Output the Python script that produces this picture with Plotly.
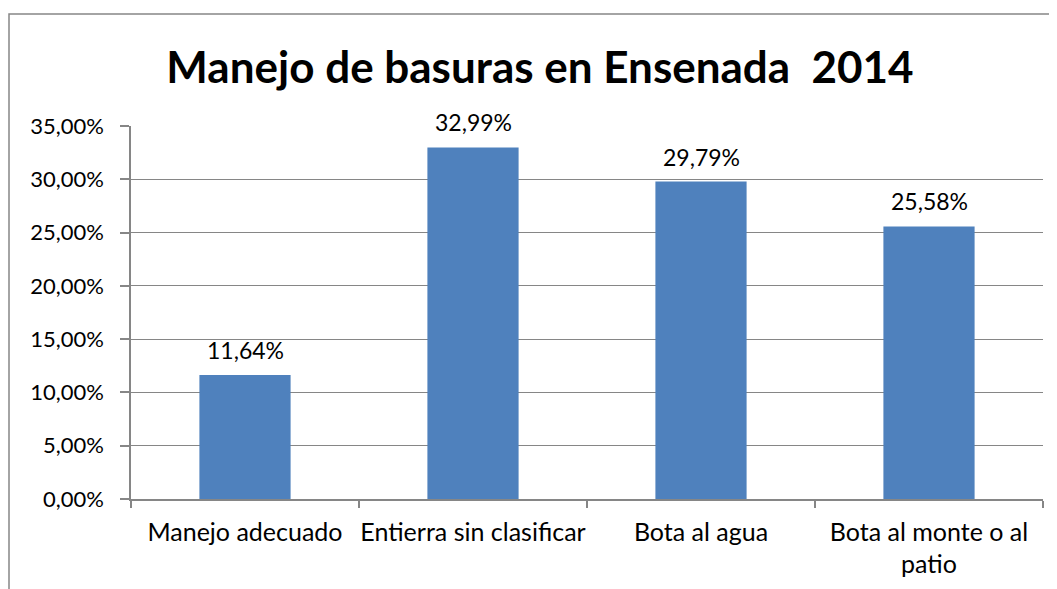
import plotly.graph_objects as go

categories = ["Manejo adecuado", "Entierra sin clasificar", "Bota al agua", "Bota al monte o al<br>patio"]
values = [0.1164, 0.3299, 0.2979, 0.2558]
labels = ["11,64%", "32,99%", "29,79%", "25,58%"]
title_text = "Manejo de basuras en Ensenada  2014"

FONT = "Lato, Open Sans, sans-serif"
GRAY = "#868686"
OFF = 8  # page body margin offset
W, H = 1057 - OFF, 589 - OFF
L, R, T, B = 131 - OFF, 1043 - OFF, 126 - OFF, 499 - OFF

fig = go.Figure()
fig.add_trace(go.Bar(x=categories, y=values, marker=dict(color="#4F81BD", line=dict(width=0)),
                     width=0.4, hoverinfo="skip"))

for c, v, t in zip(categories, values, labels):
    fig.add_annotation(x=c, y=v, text=t, showarrow=False, yanchor="bottom", yshift=9,
                       font=dict(family=FONT, size=23, color="#000000"))

def px_x(p):
    return (p - OFF - L) / (R - L)

def px_y(p):
    return (B - (p - OFF)) / (B - T)

fig.add_shape(type="rect", xref="paper", yref="paper",
              x0=px_x(9), x1=px_x(1080), y0=px_y(14), y1=px_y(640),
              line=dict(color=GRAY, width=1.5), fillcolor="rgba(0,0,0,0)", layer="below")

fig.update_layout(
    width=W, height=H,
    margin=dict(l=L, r=W - R, t=T, b=H - B, autoexpand=False),
    paper_bgcolor="white", plot_bgcolor="white",
    separators=",.",
    showlegend=False,
    title=dict(text="<b>" + title_text + "</b>", x=(540 - OFF) / W, xanchor="center",
               y=1 - (68 - OFF) / H, yanchor="middle", xref="container", yref="container",
               font=dict(family=FONT, size=44, color="#000000"), automargin=False),
    font=dict(family=FONT, size=19, color="#000000"),
)
fig.update_yaxes(range=[0, 0.35], dtick=0.05, tickformat=".2%", showgrid=True, gridcolor=GRAY,
                 gridwidth=1, showline=True, linecolor=GRAY, linewidth=1.5, ticks="outside",
                 ticklen=9, tickcolor=GRAY, tickwidth=1.5, zeroline=False, automargin=False,
                 ticklabelstandoff=12,
                 tickfont=dict(family=FONT, size=22), fixedrange=True)
fig.update_xaxes(showline=True, linecolor=GRAY, linewidth=1.5, ticks="outside", tickson="boundaries",
                 ticklen=7, tickcolor=GRAY, tickwidth=1.5, showgrid=False, tickangle=0,
                 ticklabelstandoff=10,
                 automargin=False, tickfont=dict(family=FONT, size=25), fixedrange=True)

fig.write_html("out.html")
